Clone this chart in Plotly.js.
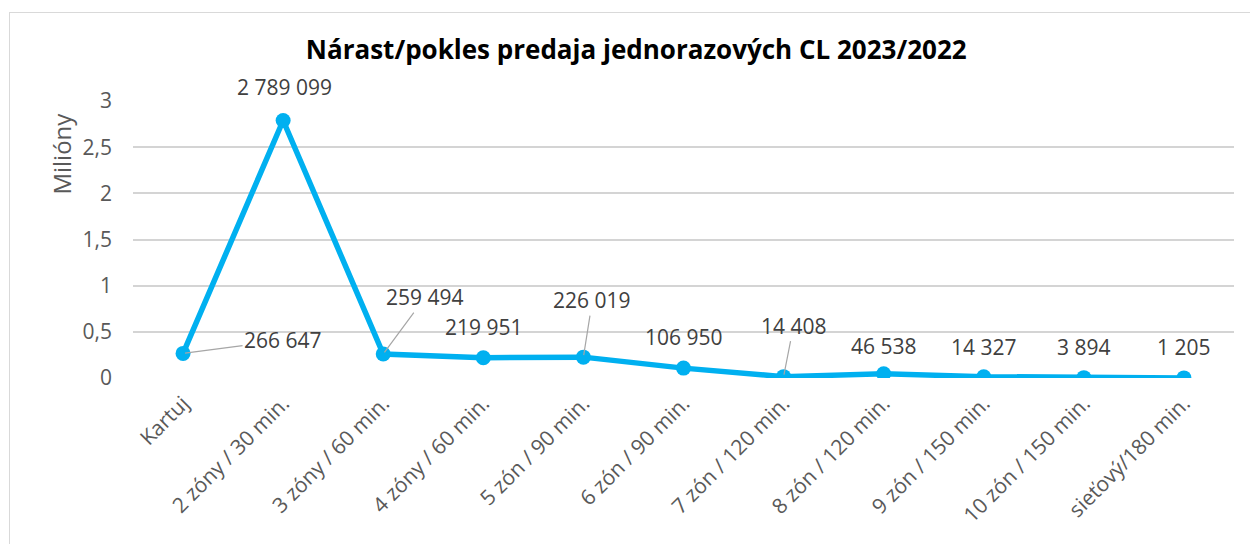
<!DOCTYPE html>
<html>
<head>
<meta charset="utf-8">
<script src="https://cdn.plot.ly/plotly-3.0.1.min.js"></script>
<style>
html,body{margin:0;padding:0;background:#fff;overflow:hidden;}
#chart{width:1250px;height:544px;position:relative;}
#frame{position:absolute;left:9px;top:12px;width:1400px;height:700px;border-left:1.5px solid #d9d9d9;border-top:1.5px solid #d9d9d9;pointer-events:none;}
</style>
</head>
<body>
<div id="chart"></div>
<div id="frame"></div>
<script>
const categories = ["Kartuj","2 zóny / 30 min.","3 zóny / 60 min.","4 zóny / 60 min.","5 zón / 90 min.","6 zón / 90 min.","7 zón / 120 min.","8 zón / 120 min.","9 zón / 150 min.","10 zón / 150 min.","sieťový/180 min."];
const values = [266647, 2789099, 259494, 219951, 226019, 106950, 14408, 46538, 14327, 3894, 1205];
const yTicks = [0, 0.5, 1, 1.5, 2, 2.5, 3];
const titleText = "Nárast/pokles predaja jednorazových CL 2023/2022";
const yTitle = "Milióny";

// label offsets in pixels (ax, ay) and whether a leader line is drawn
const labelOffsets = [[100,-13],[1,-33],[42,-57],[1,-31],[9,-57],[0,-31],[10,-51],[0,-28],[0,-30],[0,-31],[0,-31]];
const leaders = [true,false,true,false,true,false,true,false,false,false,false];

function fmt(v){ return String(v).replace(/\B(?=(\d{3})+(?!\d))/g, " "); }

const yMil = values.map(v => v/1e6);
const FONT = "Open Sans, Noto Sans, sans-serif";

const annotations = categories.map((c,i)=>({
  x: c, y: yMil[i], xref:'x', yref:'y',
  text: fmt(values[i]),
  showarrow: true, arrowhead: 0, arrowwidth: 1.2,
  arrowcolor: leaders[i] ? '#a6a6a6' : 'rgba(0,0,0,0)',
  ax: labelOffsets[i][0], ay: labelOffsets[i][1],
  standoff: 2,
  font: {family: FONT, size: 21, color: '#404040'}
}));
annotations.push({
  xref:'paper', yref:'paper', x: -0.0645, y: 0.81, xanchor:'center', yanchor:'middle',
  text: yTitle, textangle: -90, showarrow:false,
  font:{family: FONT, size: 24, color:'#595959'}
});

const trace = {
  x: categories, y: yMil, type:'scatter', mode:'lines+markers',
  line:{color:'#00B0F0', width:5.5},
  marker:{color:'#00B0F0', size:15},
  hoverinfo:'none'
};

const layout = {
  width:1250, height:544,
  margin:{l:133, r:16, t:101, b:166},
  paper_bgcolor:'#fff', plot_bgcolor:'#fff',
  separators: ', ',
  showlegend:false,
  title:{text:'<b>'+titleText+'</b>', x:0.509, xref:'container', xanchor:'center',
         y:1-50/544, yref:'container', yanchor:'middle',
         font:{family: FONT, size:26, color:'#000'}},
  xaxis:{type:'category', range:[-0.5,10.5], tickangle:-45, showgrid:false, zeroline:false,
         showline:false, ticks:'', ticklabelstandoff:8,
         tickfont:{family: FONT, size:21, color:'#595959'}},
  yaxis:{range:[0,3], tickvals:yTicks, showgrid:true, gridcolor:'#d4d4d4', gridwidth:2,
         zeroline:false, showline:false, ticks:'', ticklabelstandoff:20,
         tickfont:{family: FONT, size:21, color:'#595959'}},
  annotations: annotations
};

Plotly.newPlot('chart', [trace], layout, {staticPlot:true, displayModeBar:false});
</script>
</body>
</html>
